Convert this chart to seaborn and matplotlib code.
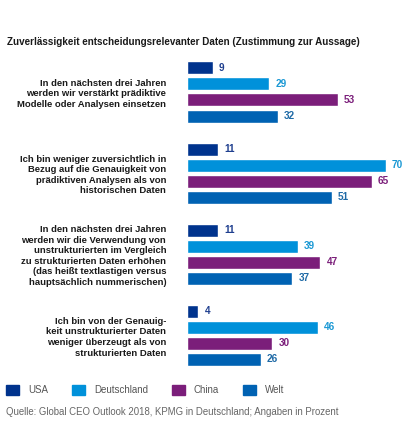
#bar chart: Zuverlaessigkeit entscheidungsrelevanter Daten
import pandas as pd
import numpy as np
import matplotlib
matplotlib.use('Agg')
import matplotlib.pyplot as plt
import seaborn as sns

statements = ['In den nächsten drei Jahren\nwerden wir verstärkt prädiktive\nModelle oder Analysen einsetzen',
              'Ich bin weniger zuversichtlich in\nBezug auf die Genauigkeit von\nprädiktiven Analysen als von\nhistorischen Daten',
              'In den nächsten drei Jahren\nwerden wir die Verwendung von\nunstrukturierten im Vergleich\nzu strukturierten Daten erhöhen\n(das heißt textlastigen versus\nhauptsächlich nummerischen)',
              'Ich bin von der Genauig-\nkeit unstrukturierter Daten\nweniger überzeugt als von\nstrukturierten Daten']
countries = ['USA', 'Deutschland', 'China', 'Welt']
usa = [9, 11, 11, 4]
deutschland = [29, 70, 39, 46]
china = [53, 65, 47, 30]
welt = [32, 51, 37, 26]

colors = ['#00338D', '#0091DA', '#7B1E7A', '#0062B3']
label_colors = ['#1f3f8f', '#1a98d4', '#7B1E7A', '#1f6aa6']

rows = []
for c, vals in zip(countries, [usa, deutschland, china, welt]):
    for s, v in zip(statements, vals):
        rows.append({'Aussage': s, 'Land': c, 'Wert': v})
df = pd.DataFrame(rows)

sns.set_style('white')
plt.rcParams['font.family'] = ['Liberation Sans', 'DejaVu Sans']

fig = plt.figure(figsize=(4.09, 4.46), dpi=100)
ax = fig.add_axes([187/409, 1-376/446, (405-187)/409, (376-51.4)/446])

sns.barplot(data=df, y='Aussage', x='Wert', hue='Land', hue_order=countries,
            palette=colors, orient='h', width=0.79, gap=0.19, saturation=1,
            legend=False, ax=ax)

ax.set_xlim(0, (405-187)/2.84)
ax.set_ylim(3.5, -0.5)
ax.set_xlabel('')
ax.set_ylabel('')
ax.set_xticks([])
sns.despine(ax=ax, left=True, bottom=True)
ax.tick_params(axis='y', length=0, pad=15)
ax.set_yticks(range(len(statements)))
ax.set_yticklabels(statements, fontsize=6.8, fontweight='bold', color='#1a1a1a',
                   ha='right', multialignment='right', linespacing=1.22)

for cont, col in zip(ax.containers, label_colors):
    ax.bar_label(cont, padding=4.5, fontsize=7.2, fontweight='bold', color=col)

fig.text(7/409, 1-42/446, 'Zuverlässigkeit entscheidungsrelevanter Daten (Zustimmung zur Aussage)',
         fontsize=7.1, fontweight='bold', color='#1a1a1a', va='center', ha='left')

handles = [plt.Rectangle((0, 0), 1, 1, color=c) for c in colors]
fig.legend(handles, countries, loc='center left', bbox_to_anchor=(6/409, 1-390/446),
           ncol=4, frameon=False, fontsize=7.0, handlelength=1.34, handleheight=1.34,
           handletextpad=0.93, columnspacing=2.45, borderaxespad=0, borderpad=0,
           labelcolor='#555555')

fig.text(6/409, 1-412/446, 'Quelle: Global CEO Outlook 2018, KPMG in Deutschland; Angaben in Prozent',
         fontsize=6.9, color='#666666', va='center', ha='left')

fig.savefig('out.png', dpi=100)
